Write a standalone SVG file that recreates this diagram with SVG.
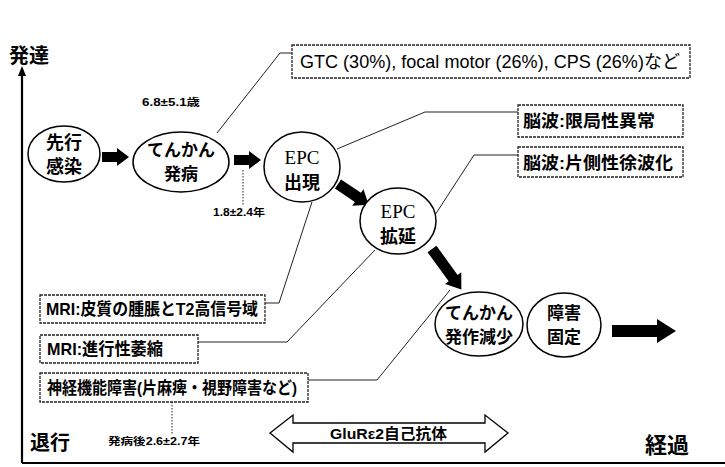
<svg xmlns="http://www.w3.org/2000/svg" width="725" height="467" viewBox="0 0 725 467">
<style>
.nd{fill:#fff;stroke:#000;stroke-width:1.5}
.bx{fill:#fff;stroke:#222;stroke-width:1.3;stroke-dasharray:3 1}
.jp{font-family:"Liberation Sans","Noto Sans CJK JP",sans-serif;font-weight:bold;fill:#000}
.lt{font-family:"Liberation Sans","Noto Sans CJK JP",sans-serif;fill:#000}
.sf{font-family:"Liberation Serif","Noto Sans CJK JP",serif;fill:#000}
.cn{fill:none;stroke:#222;stroke-width:1}
.dt{fill:none;stroke:#222;stroke-width:1;stroke-dasharray:1.5 1.5}
.ar{fill:#000}
</style>
<rect width="725" height="467" fill="#fff"/>

<g id="axes">
<line x1="22" y1="463" x2="22" y2="74" stroke="#000" stroke-width="2.2"/>
<polygon points="22,66 18,76 26,76" fill="#000"/>
<line x1="22" y1="463" x2="725" y2="463" stroke="#000" stroke-width="2"/>
<text class="jp" x="9" y="63" font-size="20">発達</text>
<text class="jp" x="30" y="450" font-size="20">退行</text>
<text class="jp" x="645" y="453" font-size="22">経過</text>
</g>

<g id="connectors">
<polyline class="cn" points="292,53 280,53 217,133"/>
<polyline class="cn" points="337,149 425,112 518,112"/>
<polyline class="cn" points="435,215 474,155 518,155"/>
<polyline class="cn" points="265,303 279,303 312,202"/>
<polyline class="cn" points="198,342 287,342 375,250"/>
<polyline class="cn" points="308,380 377,380 450,290"/>
<line class="dt" x1="243" y1="170" x2="243" y2="205"/>
<line class="dt" x1="172" y1="402" x2="172" y2="434"/>
<path class="ar" d="M102,152 L117,152 L117,148 L129,157 L117,166 L117,162 L102,162 Z"/>
<path class="ar" d="M234,155 L249,155 L249,151 L261,160 L249,169 L249,165 L234,165 Z"/>
<path class="ar" transform="translate(338,184) rotate(34)" d="M0,-5.5 L24,-5.5 L24,-10 L37,0 L24,10 L24,5.5 L0,5.5 Z"/>
<path class="ar" transform="translate(432,249) rotate(54)" d="M0,-5.5 L36,-5.5 L36,-10 L50,0 L36,10 L36,5.5 L0,5.5 Z"/>
<path class="ar" d="M612,325 L657,325 L657,319 L676,331 L657,343 L657,337 L612,337 Z"/>
</g>

<g id="n-infection">
<ellipse class="nd" cx="64" cy="154" rx="36" ry="28"/>
<text class="jp" x="64" y="149" font-size="18" text-anchor="middle">先行</text>
<text class="jp" x="64" y="173" font-size="18" text-anchor="middle">感染</text>
</g>

<g id="n-onset">
<ellipse class="nd" cx="181" cy="162" rx="48" ry="30"/>
<text class="jp" x="181" y="156" font-size="17" text-anchor="middle">てんかん</text>
<text class="jp" x="181" y="180" font-size="17" text-anchor="middle">発病</text>
<text class="jp" x="142" y="106" font-size="10" textLength="58" lengthAdjust="spacingAndGlyphs">6.8±5.1歳</text>
<text class="jp" x="213" y="216" font-size="10" textLength="52" lengthAdjust="spacingAndGlyphs">1.8±2.4年</text>
</g>

<g id="n-epc1">
<ellipse class="nd" cx="302" cy="167" rx="38" ry="35"/>
<text class="sf" x="302" y="164" font-size="19" text-anchor="middle">EPC</text>
<text class="jp" x="302" y="189" font-size="18" text-anchor="middle">出現</text>
</g>

<g id="n-epc2">
<ellipse class="nd" cx="398" cy="221" rx="38" ry="33"/>
<text class="sf" x="398" y="218" font-size="19" text-anchor="middle">EPC</text>
<text class="jp" x="398" y="243" font-size="18" text-anchor="middle">拡延</text>
</g>

<g id="n-decrease">
<ellipse class="nd" cx="479" cy="324" rx="44" ry="32"/>
<text class="jp" x="479" y="319" font-size="17" text-anchor="middle">てんかん</text>
<text class="jp" x="479" y="343" font-size="17" text-anchor="middle">発作減少</text>
</g>

<g id="n-fixed">
<ellipse class="nd" cx="564" cy="325" rx="37" ry="32"/>
<text class="jp" x="564" y="319" font-size="17" text-anchor="middle">障害</text>
<text class="jp" x="564" y="343" font-size="17" text-anchor="middle">固定</text>
</g>

<g id="b-gtc">
<rect class="bx" x="292" y="45" width="398" height="33"/>
<text class="lt" x="300" y="68" font-size="18" textLength="380" lengthAdjust="spacingAndGlyphs">GTC (30%), focal motor (26%), CPS (26%)など</text>
</g>

<g id="b-eeg1">
<rect class="bx" x="518" y="105" width="165" height="32"/>
<text class="jp" x="523" y="127" font-size="17" textLength="132" lengthAdjust="spacingAndGlyphs">脳波:限局性異常</text>
</g>

<g id="b-eeg2">
<rect class="bx" x="518" y="147" width="165" height="30"/>
<text class="jp" x="523" y="169" font-size="17" textLength="150" lengthAdjust="spacingAndGlyphs">脳波:片側性徐波化</text>
</g>

<g id="b-mri1">
<rect class="bx" x="40" y="295" width="225" height="28"/>
<text class="jp" x="46" y="315" font-size="17" textLength="212" lengthAdjust="spacingAndGlyphs">MRI:皮質の腫脹とT2高信号域</text>
</g>

<g id="b-mri2">
<rect class="bx" x="40" y="335" width="158" height="28"/>
<text class="jp" x="47" y="355" font-size="17" textLength="116" lengthAdjust="spacingAndGlyphs">MRI:進行性萎縮</text>
</g>

<g id="b-neuro">
<rect class="bx" x="40" y="373" width="268" height="29"/>
<text class="jp" x="47" y="394" font-size="17" textLength="250" lengthAdjust="spacingAndGlyphs">神経機能障害(片麻痺・視野障害など)</text>
<text class="jp" x="108" y="445" font-size="10" textLength="92" lengthAdjust="spacingAndGlyphs">発病後2.6±2.7年</text>
</g>

<g id="glur">
<polygon points="270,433 293,415 293,423 485,423 485,415 508,433 485,452 485,443 293,443 293,452" fill="#fff" stroke="#000" stroke-width="1.3"/>
<text class="jp" x="330" y="439" font-size="15" textLength="117" lengthAdjust="spacingAndGlyphs">GluRε2自己抗体</text>
</g>
</svg>
